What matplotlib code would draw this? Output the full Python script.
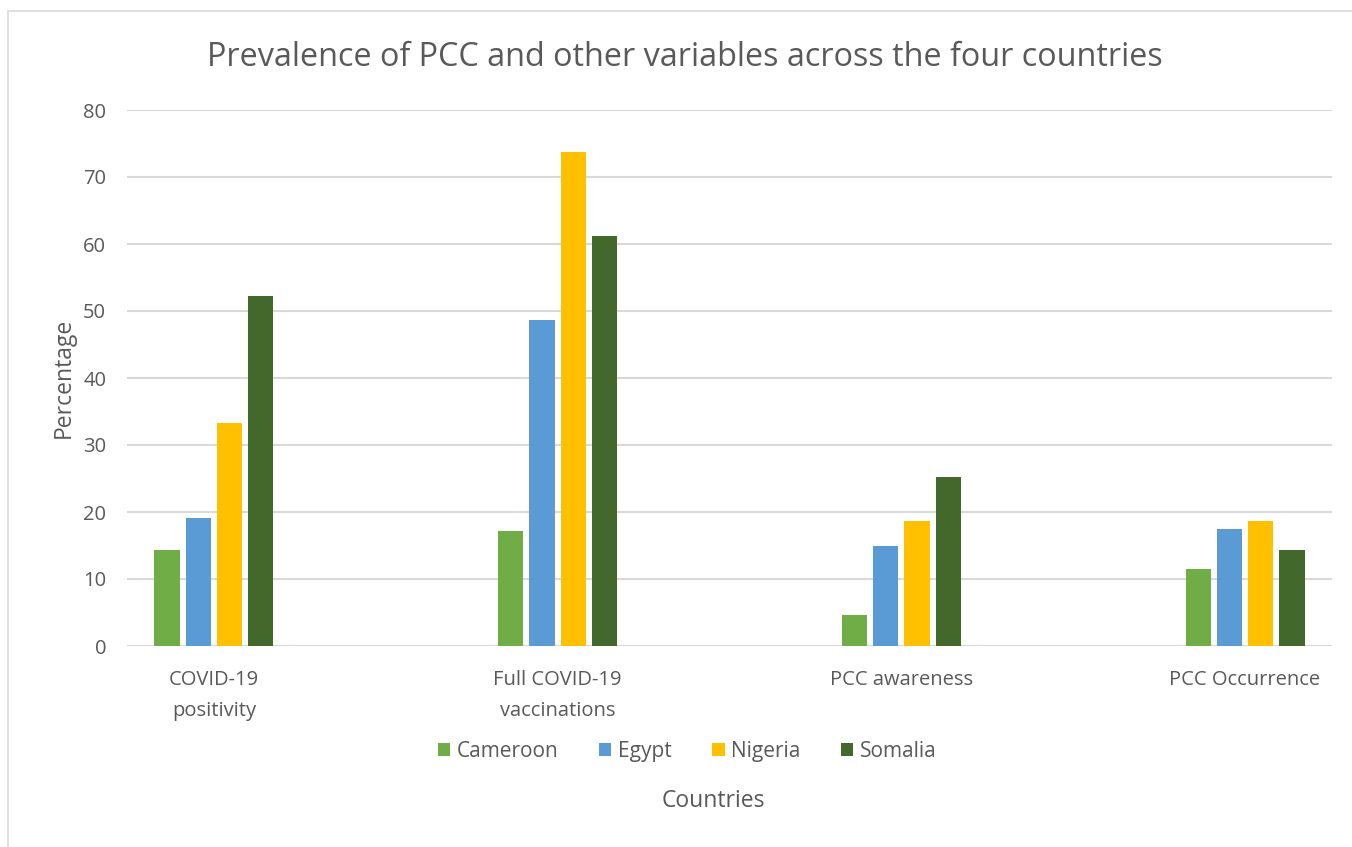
import numpy as np
import matplotlib.pyplot as plt
from matplotlib.patches import Rectangle

categories = ['COVID-19\npositivity', 'Full COVID-19\nvaccinations', 'PCC awareness', 'PCC Occurrence']
countries = ['Cameroon', 'Egypt', 'Nigeria', 'Somalia']
cameroon = [14.3, 17.2, 4.7, 11.45]
egypt = [19.15, 48.7, 14.9, 17.45]
nigeria = [33.3, 73.7, 18.6, 18.6]
somalia = [52.2, 61.2, 25.2, 14.4]
colors = ['#70ad47', '#5b9bd5', '#ffc000', '#43682b']

plt.rcParams['font.family'] = ['Open Sans', 'DejaVu Sans']
txt = '#595959'

fig = plt.figure(figsize=(13.52, 8.47), dpi=100)
W, H = 1352, 847
ax = fig.add_axes([127 / W, (H - 646) / H, (1332 - 127) / W, (646 - 110) / H])

x = np.arange(len(categories))
width = 0.073
step = 0.091
for i, (vals, name) in enumerate(zip([cameroon, egypt, nigeria, somalia], countries)):
    ax.bar(x + (i - 1.5) * step, vals, width, color=colors[i], label=name, zorder=3)

ax.set_xlim(-0.253, 3.253)
ax.set_ylim(0, 80)
ax.set_yticks(range(0, 81, 10))
ax.yaxis.grid(True, color='#d9d9d9', linewidth=1.5, zorder=0)
for s in ax.spines.values():
    s.set_visible(False)
ax.tick_params(axis='both', length=0, labelsize=14.5, labelcolor=txt)
ax.tick_params(axis='y', pad=15)
ax.tick_params(axis='x', pad=17)
ax.set_xticks(x)
ax.set_xticklabels(categories, linespacing=1.75)

ax.set_ylabel('Percentage', fontsize=16.5, color=txt, labelpad=5)
fig.text(713 / W, 1 - 801 / H, 'Countries', fontsize=16.5, color=txt, ha='center', va='center')
fig.text(685 / W, 1 - 57 / H, 'Prevalence of PCC and other variables across the four countries',
         fontsize=23.3, color=txt, ha='center', va='center')

leg = fig.legend(loc='center', bbox_to_anchor=(687 / W, 1 - 751 / H), ncol=4, frameon=False,
                 fontsize=15, handlelength=0.6, handleheight=0.6, handletextpad=0.3,
                 columnspacing=1.95, labelcolor=txt)

fig.patches.append(Rectangle((8 / W, -0.1), 1.2, 1 - 11 / H + 0.1, transform=fig.transFigure,
                             fill=False, edgecolor='#d9d9d9', linewidth=1.2))

fig.savefig('out.png', dpi=100)
